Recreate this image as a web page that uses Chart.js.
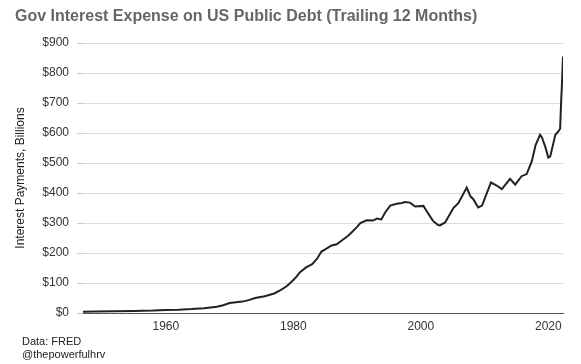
<!DOCTYPE html>
<html>
<head>
<meta charset="utf-8">
<script src="https://cdn.jsdelivr.net/npm/chart.js@4"></script>
<style>
  html, body { margin: 0; padding: 0; background: #fff; }
  #wrap { width: 581px; height: 364px; position: relative; }
</style>
</head>
<body>
<div id="wrap"><canvas id="c" width="581" height="364"></canvas></div>
<script>
const titleText = "Gov Interest Expense on US Public Debt (Trailing 12 Months)";
const yAxisTitle = "Interest Payments, Billions";
const sourceLines = ["Data: FRED", "@thepowerfulhrv"];
const xTickYears = [1960, 1980, 2000, 2020];
const yTickValues = [0, 100, 200, 300, 400, 500, 600, 700, 800, 900];

const years = [
  1947.0, 1949.0, 1952.0, 1955.0, 1958.0, 1960.0, 1962.0, 1964.0, 1966.0, 1968.0,
  1969.0, 1970.0, 1971.0, 1972.0, 1973.0, 1974.0, 1975.5, 1977.0, 1978.0, 1979.0,
  1980.0, 1980.5, 1981.0, 1982.0, 1982.9, 1983.7, 1984.4, 1985.0, 1986.0, 1986.8,
  1987.8, 1988.5, 1989.2, 1990.0, 1990.5, 1991.5, 1992.5, 1993.1, 1993.8, 1994.4,
  1995.2, 1996.2, 1997.0, 1997.5, 1998.3, 1999.1, 2000.4, 2000.9, 2001.9, 2002.7,
  2003.0, 2003.8, 2005.1, 2005.9, 2007.2, 2007.8, 2008.2, 2009.0, 2009.6, 2011.0,
  2011.9, 2012.7, 2014.0, 2014.8, 2015.8, 2016.6, 2017.4, 2018.0, 2018.7, 2019.0,
  2019.5, 2020.0, 2020.3, 2021.1, 2021.6, 2021.85, 2022.0, 2022.15, 2022.3
];
const interest = [
  4.5, 5, 5.5, 6.5, 8, 10, 11, 13, 16, 21,
  26, 33, 36, 38, 43, 50, 56, 65, 76, 90,
  110, 121, 135, 152, 162, 180, 205, 212, 225, 229,
  245, 256, 270, 287, 300, 309, 308, 315, 312, 335,
  358, 364, 367, 370, 368, 355, 357, 340, 307, 293,
  292, 302, 350, 367, 418, 388, 380, 352, 358, 435,
  425, 413, 447, 428, 456, 463, 505, 560, 594, 585,
  555, 518, 522, 594, 606, 614, 700, 770, 855
];

const FONT = "'Liberation Sans', Arial, sans-serif";

const textPlugin = {
  id: 'texts',
  afterDraw(chart) {
    const ctx = chart.ctx;
    ctx.save();
    ctx.textBaseline = 'alphabetic';
    ctx.textAlign = 'left';
    ctx.fillStyle = '#666666';
    ctx.font = "bold 16px " + FONT;
    ctx.fillText(titleText, 15, 21);
    ctx.fillStyle = '#222222';
    ctx.font = "11px " + FONT;
    ctx.fillText(sourceLines[0], 22, 345);
    ctx.fillText(sourceLines[1], 22, 358);
    ctx.restore();
  }
};

new Chart(document.getElementById('c'), {
  type: 'line',
  data: {
    datasets: [{
      data: years.map((y, i) => ({ x: y, y: interest[i] })),
      borderColor: '#222222',
      borderWidth: 2,
      pointRadius: 0,
      tension: 0,
      fill: false
    }]
  },
  options: {
    responsive: false,
    animation: false,
    devicePixelRatio: 1,
    layout: { padding: { top: 43, right: 18, bottom: 31, left: 0 } },
    plugins: {
      legend: { display: false },
      title: { display: false },
      tooltip: { enabled: false }
    },
    scales: {
      x: {
        type: 'linear',
        min: 1947,
        max: 2022.3,
        afterBuildTicks(scale) { scale.ticks = xTickYears.map(v => ({ value: v })); },
        afterFit(scale) { scale.height = 20; },
        grid: { display: false, drawTicks: false },
        border: { display: true, color: '#555555', width: 1 },
        ticks: {
          color: '#333333',
          font: { family: FONT, size: 12 },
          padding: 6,
          maxRotation: 0,
          autoSkip: false,
          callback: v => String(v)
        }
      },
      y: {
        min: 0,
        max: 900,
        afterBuildTicks(scale) { scale.ticks = yTickValues.map(v => ({ value: v })); },
        afterFit(scale) { scale.width = 83; },
        grid: { color: '#dddddd', lineWidth: 1, drawTicks: true, tickLength: 6, tickColor: '#cccccc' },
        border: { display: false },
        title: {
          display: true,
          text: yAxisTitle,
          color: '#222222',
          font: { family: FONT, size: 12 },
          padding: { top: 13, bottom: 0 }
        },
        ticks: {
          color: '#333333',
          font: { family: FONT, size: 12 },
          padding: 8,
          callback: v => '$' + v
        }
      }
    }
  },
  plugins: [textPlugin]
});
</script>
</body>
</html>
